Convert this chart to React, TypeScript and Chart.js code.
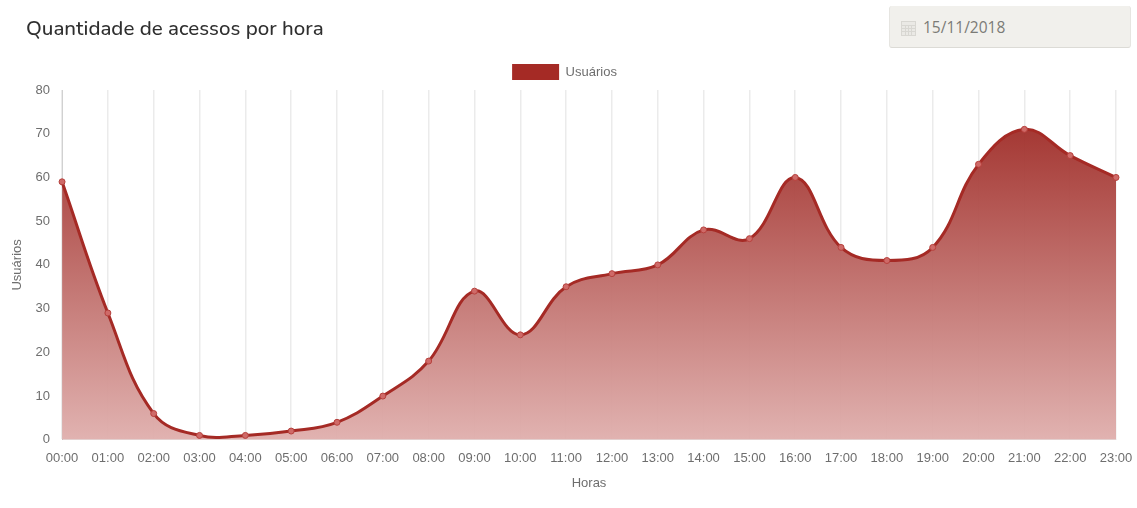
import React, { useEffect, useRef } from "react";
import { Chart, registerables } from "chart.js";

Chart.register(...registerables);

const hours = [
  "00:00", "01:00", "02:00", "03:00", "04:00", "05:00", "06:00", "07:00",
  "08:00", "09:00", "10:00", "11:00", "12:00", "13:00", "14:00", "15:00",
  "16:00", "17:00", "18:00", "19:00", "20:00", "21:00", "22:00", "23:00",
];
const users = [59, 29, 6, 1, 1, 2, 4, 10, 18, 34, 24, 35, 38, 40, 48, 46, 60, 44, 41, 44, 63, 71, 65, 60];

const seriesLabel = "Usuários";
const xTitle = "Horas";
const pageTitle = "Quantidade de acessos por hora";
const selectedDate = "15/11/2018";

const BRICK = "#a52a25";
const TEXT_GREY = "#6e6e6e";
const TICK_FONT = "'Liberation Sans', Arial, sans-serif";

// Opaque ramp so the hour grid stays mostly hidden behind the filled area.
function areaGradient(context: any) {
  const { ctx, chartArea } = context.chart;
  if (!chartArea) return "rgba(165,42,37,0.5)";
  const g = ctx.createLinearGradient(0, chartArea.top, 0, chartArea.bottom);
  g.addColorStop(0, "rgba(154,34,29,0.97)");
  g.addColorStop(1, "rgba(224,176,174,0.97)");
  return g;
}

export default function App() {
  const canvasRef = useRef<HTMLCanvasElement>(null);

  useEffect(() => {
    const chart = new Chart(canvasRef.current!, {
      type: "line",
      data: {
        labels: hours,
        datasets: [
          {
            label: seriesLabel,
            data: users,
            fill: true,
            tension: 0.4,
            borderColor: BRICK,
            borderWidth: 3,
            backgroundColor: areaGradient,
            pointRadius: 3,
            pointBorderWidth: 1,
            pointBorderColor: "#b5403c",
            pointBackgroundColor: "#cf6a68",
          },
        ],
      },
      options: {
        responsive: false,
        animation: false,
        layout: { padding: { top: 54, left: 6, right: 14, bottom: 13 } },
        plugins: {
          legend: {
            position: "top",
            labels: {
              boxWidth: 47,
              boxHeight: 16,
              color: TEXT_GREY,
              font: { family: TICK_FONT, size: 13 },
              generateLabels: () => [
                {
                  text: seriesLabel,
                  fillStyle: BRICK,
                  strokeStyle: BRICK,
                  lineWidth: 0,
                  fontColor: TEXT_GREY,
                  datasetIndex: 0,
                },
              ],
            },
          },
          tooltip: { enabled: false },
        },
        scales: {
          x: {
            // Room kept to the right of the plot for the last hour label.
            afterFit: (scale: any) => {
              scale.paddingRight = 21;
            },
            title: {
              display: true,
              text: xTitle,
              color: TEXT_GREY,
              padding: { top: -2, bottom: 4 },
              font: { family: TICK_FONT, size: 13 },
            },
            grid: { color: "rgba(0,0,0,0.08)", drawTicks: false, lineWidth: 1.5 },
            ticks: {
              color: TEXT_GREY,
              padding: 11,
              maxRotation: 0,
              autoSkip: false,
              font: { family: TICK_FONT, size: 13 },
            },
          },
          y: {
            min: 0,
            max: 80,
            title: {
              display: true,
              text: seriesLabel,
              color: TEXT_GREY,
              padding: { top: 4, bottom: 6 },
              font: { family: TICK_FONT, size: 13 },
            },
            grid: { display: false },
            border: { display: true, color: "rgba(0,0,0,0.15)" },
            ticks: {
              color: TEXT_GREY,
              stepSize: 10,
              padding: 4,
              font: { family: TICK_FONT, size: 13 },
            },
          },
        },
      },
    });
    return () => chart.destroy();
  }, []);

  return (
    <div style={{ position: "absolute", left: 0, top: 0, width: 1137, height: 508, background: "#fff", overflow: "hidden" }}>
      <canvas ref={canvasRef} width={1137} height={508} style={{ position: "absolute", left: 0, top: 0 }} />
      <div
        style={{
          position: "absolute",
          left: 26,
          top: 15,
          fontFamily: "Nunito, Lato, 'Noto Sans', sans-serif",
          fontSize: 20.5,
          fontWeight: 500,
          lineHeight: "26px",
          color: "#2f2f2f",
          whiteSpace: "nowrap",
        }}
      >
        {pageTitle}
      </div>
      <div
        style={{
          position: "absolute",
          left: 889,
          top: 6,
          width: 242,
          height: 42,
          boxSizing: "border-box",
          background: "#f1f0ec",
          borderRadius: 3,
          borderBottom: "1px solid #dcdbd6",
          borderRight: "1px solid #e6e5e1",
          borderLeft: "1px solid #e6e5e1",
        }}
      >
        <svg width="15" height="15" viewBox="0 0 15 15" style={{ position: "absolute", left: 11, top: 15 }}>
          <rect x="0.5" y="0.5" width="14" height="14" fill="#eaE9e5" stroke="#d8d7d2" />
          <path d="M1 4.5H14M1 7.5H14M1 10.5H14M4.5 4.5V14M7.5 4.5V14M10.5 4.5V14" stroke="#d8d7d2" strokeWidth="1" fill="none" />
        </svg>
        <span
          style={{
            position: "absolute",
            left: 33,
            top: 10,
            fontFamily: "'Open Sans', sans-serif",
            fontSize: 15.5,
            lineHeight: "22px",
            color: "#7b7b76",
          }}
        >
          {selectedDate}
        </span>
      </div>
    </div>
  );
}
